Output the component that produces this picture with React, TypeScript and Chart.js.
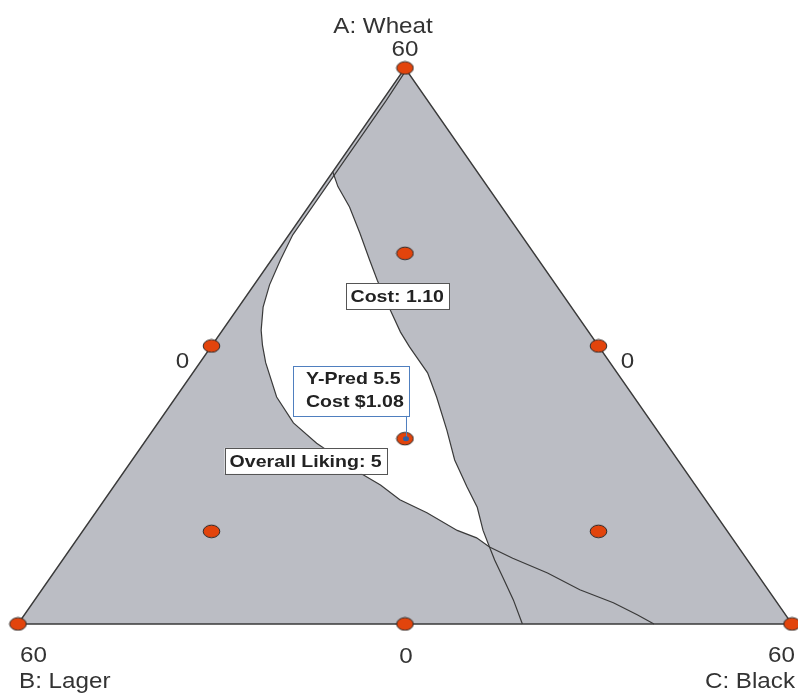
import React, { useEffect, useRef } from "react";
import { Chart, registerables } from "chart.js";
Chart.register(...registerables);

// Mixture total and component names
const TOTAL = 60;
const COMPONENTS = ["A: Wheat", "B: Lager", "C: Black"];

// Design points (A: Wheat, B: Lager, C: Black)
const designWheat = [60, 0, 0, 30, 30, 0, 20, 40, 10, 10];
const designLager = [0, 60, 0, 30, 0, 30, 20, 10, 40, 10];
const designBlack = [0, 0, 60, 0, 30, 30, 20, 10, 10, 40];

// "Overall Liking: 5" contour (Wheat, Black; Lager = 60 - both)
const likingWheat = [59.8, 56.5, 53.0, 49.7, 46.5, 42.0, 39.3, 36.6, 34.2, 31.7, 30.1, 28.2, 24.5, 21.7, 19.5, 16.1, 15.0, 13.4, 12.0, 10.1, 9.3, 8.3, 7.1, 5.5, 3.7, 2.3, 1.0, 0];
const likingBlack = [0.2, 0.3, 0.3, 0.3, 0.3, 0.3, 0.7, 1.2, 1.9, 3.0, 3.9, 5.1, 7.8, 10.5, 13.4, 18.7, 20.6, 22.9, 25.7, 29.0, 30.9, 32.4, 34.8, 38.3, 41.7, 45.0, 47.5, 49.3];

// "Cost: 1.10" contour
const costWheat = [48.8, 47.2, 45.0, 42.2, 39.3, 37.1, 33.9, 31.5, 29.9, 27.1, 24.5, 20.9, 17.7, 14.8, 12.6, 10.1, 8.3, 6.9, 5.0, 2.6, 0];
const costBlack = [0.0, 1.2, 3.2, 5.4, 7.6, 9.3, 11.9, 13.9, 15.4, 18.2, 20.2, 22.8, 25.0, 27.4, 29.3, 31.0, 32.4, 33.5, 35.1, 37.1, 39.1];

// Where the two contours meet (top) and cross (bottom)
const topMeetWheat = 48.4;
const topMeetBlack = 0.3;
const crossWheat = 8.3;

// Flag point prediction
const flagLines = ["Y-Pred 5.5", "Cost $1.08"];
const flagWheat = 20;
const flagBlack = 20;

// Contour labels
const costLabel = "Cost: 1.10";
const costLabelWheat = 35.4;
const costLabelBlack = 11.7;
const likingLabel = "Overall Liking: 5";
const likingLabelWheat = 17.6;
const likingLabelBlack = 13.5;

// ternary -> cartesian (x = C + A/2, y = A)
const tx = (w: number, b: number) => ({ x: b + w / 2, y: w });

const GREY = "#bbbdc4";
const EDGE = "#3a3a3a";

function drawStretched(ctx: CanvasRenderingContext2D, text: string, x: number, y: number, align: "left" | "center" | "right", sx: number) {
  const w = ctx.measureText(text).width * sx;
  let left = x;
  if (align === "center") left = x - w / 2;
  if (align === "right") left = x - w;
  ctx.save();
  ctx.translate(left, y);
  ctx.scale(sx, 1);
  ctx.textAlign = "left";
  ctx.fillText(text, 0, 0);
  ctx.restore();
  return w;
}

const labelPlugin = {
  id: "ternaryLabels",
  afterDatasetsDraw(chart: any) {
    const ctx: CanvasRenderingContext2D = chart.ctx;
    const xs = chart.scales.x;
    const ys = chart.scales.y;
    const px = (w: number, b: number) => {
      const p = tx(w, b);
      return { x: xs.getPixelForValue(p.x), y: ys.getPixelForValue(p.y) };
    };
    ctx.save();
    ctx.textBaseline = "alphabetic";
    const AX = "22px 'Liberation Sans', Arial, sans-serif";
    ctx.font = AX;
    ctx.fillStyle = "#333333";
    const sx = 1.1;
    const A = px(TOTAL, 0);
    const B = px(0, 0);
    const C = px(0, TOTAL);
    drawStretched(ctx, COMPONENTS[0], A.x - 22, A.y - 35, "center", sx);
    drawStretched(ctx, String(TOTAL), A.x, A.y - 12, "center", sx);
    drawStretched(ctx, String(TOTAL), B.x + 2, B.y + 38, "left", sx);
    drawStretched(ctx, COMPONENTS[1], B.x + 1, B.y + 64, "left", sx);
    drawStretched(ctx, String(TOTAL), C.x + 3, C.y + 38, "right", sx);
    drawStretched(ctx, COMPONENTS[2], C.x + 3, C.y + 64, "right", sx);
    const mL = px(TOTAL / 2, 0);
    const mR = px(TOTAL / 2, TOTAL / 2);
    const mB = px(0, TOTAL / 2);
    drawStretched(ctx, "0", mL.x - 29, mL.y + 22, "center", sx);
    drawStretched(ctx, "0", mR.x + 29, mR.y + 22, "center", sx);
    drawStretched(ctx, "0", mB.x + 1, mB.y + 39, "center", sx);

    // contour label boxes
    const BF = "bold 17px 'Liberation Sans', Arial, sans-serif";
    const bsx = 1.15;
    const box = (text: string, c: { x: number; y: number }) => {
      ctx.font = BF;
      const w = ctx.measureText(text).width * bsx + 10;
      const h = 26;
      ctx.fillStyle = "#ffffff";
      ctx.fillRect(c.x - w / 2, c.y - h / 2, w, h);
      ctx.strokeStyle = "#555555";
      ctx.lineWidth = 1;
      ctx.strokeRect(Math.round(c.x - w / 2) + 0.5, Math.round(c.y - h / 2) + 0.5, Math.round(w), h);
      ctx.fillStyle = "#222222";
      drawStretched(ctx, text, c.x, c.y + 6, "center", bsx);
    };
    box(costLabel, px(costLabelWheat, costLabelBlack));
    box(likingLabel, px(likingLabelWheat, likingLabelBlack));

    // flag
    const f = px(flagWheat, flagBlack);
    const bl = f.x - 112, bt = f.y - 73, bw = 116, bh = 50;
    ctx.strokeStyle = "#4f7fbf";
    ctx.lineWidth = 1;
    ctx.beginPath();
    ctx.moveTo(f.x + 1.5, bt + bh);
    ctx.lineTo(f.x + 1.5, f.y);
    ctx.stroke();
    ctx.fillStyle = "#ffffff";
    ctx.fillRect(bl, bt, bw, bh);
    ctx.strokeRect(Math.round(bl) + 0.5, Math.round(bt) + 0.5, bw, bh);
    ctx.fillStyle = "#222222";
    ctx.font = BF;
    drawStretched(ctx, flagLines[0], bl + 13, bt + 18, "left", bsx);
    drawStretched(ctx, flagLines[1], bl + 13, bt + 41, "left", bsx);
    ctx.fillStyle = "#2f5fa5";
    ctx.beginPath();
    ctx.ellipse(f.x + 1, f.y, 3, 2.5, 0, 0, Math.PI * 2);
    ctx.fill();
    ctx.restore();
  },
};

export default function App() {
  const ref = useRef<HTMLCanvasElement | null>(null);
  useEffect(() => {
    if (!ref.current) return;
    const dot = document.createElement("canvas");
    dot.width = 19;
    dot.height = 15;
    const dctx = dot.getContext("2d")!;
    dctx.beginPath();
    dctx.ellipse(9.5, 7.5, 8.3, 6.3, 0, 0, Math.PI * 2);
    dctx.fillStyle = "#e2440c";
    dctx.fill();
    dctx.lineWidth = 1;
    dctx.strokeStyle = "#2a2a2a";
    dctx.stroke();

    const triangle = [tx(0, 0), tx(0, TOTAL), tx(TOTAL, 0), tx(0, 0)];
    const liking = likingWheat.map((w, i) => tx(w, likingBlack[i]));
    const cost = costWheat.map((w, i) => tx(w, costBlack[i]));
    const li = likingWheat.indexOf(crossWheat);
    const ci = costWheat.indexOf(crossWheat);
    const region = [tx(topMeetWheat, topMeetBlack)];
    for (let i = 0; i <= li; i++) if (likingWheat[i] < topMeetWheat) region.push(liking[i]);
    for (let i = ci - 1; i >= 0; i--) if (costWheat[i] < topMeetWheat) region.push(cost[i]);
    region.push(tx(topMeetWheat, topMeetBlack));
    const design = designWheat.map((w, i) => tx(w, designBlack[i]));
    void designLager;

    const chart = new Chart(ref.current, {
      type: "scatter",
      data: {
        datasets: [
          { data: design, pointStyle: dot as any, pointRadius: 8, showLine: false, order: 1, clip: false as any },
          { data: triangle, showLine: true, fill: false, borderColor: EDGE, borderWidth: 1.4, pointRadius: 0, order: 2 },
          { data: cost, showLine: true, fill: false, borderColor: "#3a3a3a", borderWidth: 1.2, pointRadius: 0, order: 3 },
          { data: liking, showLine: true, fill: false, borderColor: "#3a3a3a", borderWidth: 1.2, pointRadius: 0, order: 3 },
          { data: region, showLine: true, fill: "shape" as any, backgroundColor: "#ffffff", borderColor: "rgba(0,0,0,0)", borderWidth: 0, pointRadius: 0, order: 4 },
          { data: triangle, showLine: true, fill: "shape" as any, backgroundColor: GREY, borderColor: "rgba(0,0,0,0)", borderWidth: 0, pointRadius: 0, order: 5 },
        ],
      },
      options: {
        animation: false,
        responsive: false,
        devicePixelRatio: 1,
        layout: { padding: 0, autoPadding: false },
        plugins: { legend: { display: false }, tooltip: { enabled: false } },
        events: [],
        scales: {
          x: { type: "linear", min: -1.3953, max: 60.4651, display: false },
          y: { type: "linear", min: -7.554, max: 67.338, display: false },
        },
      },
      plugins: [labelPlugin],
    });
    return () => chart.destroy();
  }, []);
  return (
    <div style={{ position: "fixed", left: 0, top: 0, width: 798, height: 694, background: "#ffffff" }}>
      <canvas ref={ref} width={798} height={694} style={{ display: "block" }} />
    </div>
  );
}
